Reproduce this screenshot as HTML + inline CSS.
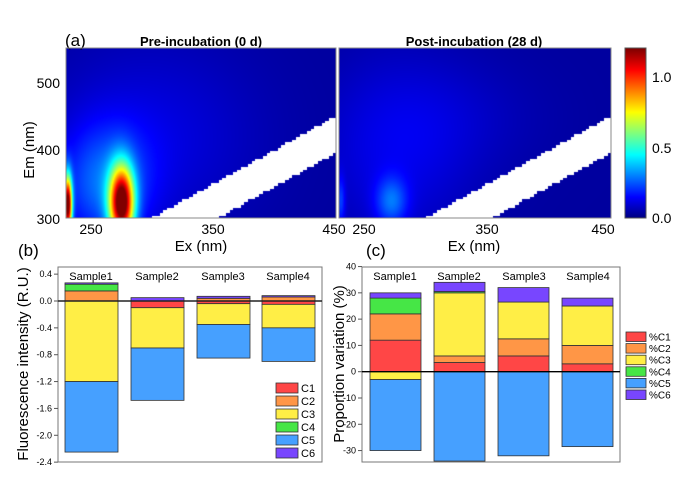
<!DOCTYPE html>
<html><head><meta charset="utf-8">
<style>
body{margin:0;background:#fff;width:700px;height:489px;overflow:hidden;font-family:"Liberation Sans",Arial,sans-serif}
#wrap{position:relative;width:700px;height:489px}
canvas{position:absolute}
svg{position:absolute;left:0;top:0}
</style></head><body>
<div id="wrap">
<canvas id="hm1" width="270" height="170" style="left:66px;top:48px"></canvas>
<canvas id="hm2" width="272" height="170" style="left:339px;top:48px"></canvas>
<canvas id="cb" width="21" height="170" style="left:625px;top:48px"></canvas>
<svg id="svg" width="700" height="489"></svg>
</div>
<script>
// ---- data ----
const samples=["Sample1","Sample2","Sample3","Sample4"];
const compsB=["C1","C2","C3","C4","C5","C6"];
const compsC=["%C1","%C2","%C3","%C4","%C5","%C6"];
const colors=["#ff4646","#ff9646","#ffee46","#46e646","#46a0ff","#7846ff"];
// panel b values (R.U.) per sample, components C1..C6
const bS1=[0,0.15,-1.2,0.10,-1.05,0.02];
const bS2=[-0.1,0,-0.6,0,-0.78,0.05];
const bS3=[-0.04,0.04,-0.31,0,-0.5,0.03];
const bS4=[-0.05,0.06,-0.35,0,-0.5,0.02];
// panel c values (%)
const cS1=[12,10,-3,6,-27,2];
const cS2=[3.5,2.5,24,0.5,-34,3.5];
const cS3=[6,6.5,14,0,-32,5.5];
const cS4=[3,7,15,0,-28.5,3];
const bTicks=[0.4,0,-0.4,-0.8,-1.2,-1.6,-2.0,-2.4];
const cTicks=[40,30,20,10,0,-10,-20,-30];
// EEM peaks: [ex, em, sigmaEx, sigmaEm, amplitude]
const peaksPre=[[275,322,7,38,1.15],[231,320,2.5,30,1.2],[262,350,25,60,0.22],[300,420,60,100,0.08]];
const peaksPost=[[272,325,9,25,0.2],[231,325,2.5,25,0.15],[275,400,45,100,0.09],[330,450,50,60,0.03]];

const NS="http://www.w3.org/2000/svg";
const svg=document.getElementById('svg');
function el(tag,attrs,parent){const e=document.createElementNS(NS,tag);for(const k in attrs)e.setAttribute(k,attrs[k]);(parent||svg).appendChild(e);return e;}
function txt(x,y,s,size,anchor,extra){const t=el('text',Object.assign({x:x,y:y,'font-size':size,'text-anchor':anchor||'middle',fill:'#000'},extra||{}));t.textContent=s;return t;}

// jet colormap
function jet(v){v=Math.max(0,Math.min(1,v));
 const r=Math.max(0,Math.min(1,1.5-Math.abs(4*v-3)));
 const g=Math.max(0,Math.min(1,1.5-Math.abs(4*v-2)));
 const b=Math.max(0,Math.min(1,1.5-Math.abs(4*v-1)));
 return [r*255,g*255,b*255];}
function drawHM(id,peaks){
 const c=document.getElementById(id),ctx=c.getContext('2d');const W=c.width,H=c.height;
 const img=ctx.createImageData(W,H);
 for(let y=0;y<H;y++){const em=550-y*250/H;for(let x=0;x<W;x++){const ex=230+x*220/W;
  let i=(y*W+x)*4;
  const emq=Math.floor(em/4)*4, exq=Math.floor(ex/3)*3;
  if(emq<exq+1 && emq>exq-54 && exq>=297){img.data[i]=255;img.data[i+1]=255;img.data[i+2]=255;img.data[i+3]=255;continue;}
  let v=0;for(const p of peaks){v+=p[4]*Math.exp(-((ex-p[0])**2/(2*p[2]**2)+(em-p[1])**2/(2*p[3]**2)));}
  const col=jet(0.03+v/1.2*0.97);img.data[i]=col[0];img.data[i+1]=col[1];img.data[i+2]=col[2];img.data[i+3]=255;}}
 ctx.putImageData(img,0,0);}
drawHM('hm1',peaksPre);drawHM('hm2',peaksPost);
(function(){const c=document.getElementById('cb'),ctx=c.getContext('2d');for(let y=0;y<170;y++){const col=jet(1-y/170);ctx.fillStyle=`rgb(${col[0]|0},${col[1]|0},${col[2]|0})`;ctx.fillRect(0,y,21,1);}})();

// panel a axes/labels
txt(65,46,"(a)",17,'start');
txt(201,46,"Pre-incubation (0 d)",13,'middle',{'font-weight':'bold'});
txt(474,46,"Post-incubation (28 d)",13,'middle',{'font-weight':'bold'});
el('rect',{x:66,y:48,width:270,height:170,fill:'none',stroke:'#888','stroke-width':1});
el('rect',{x:339,y:48,width:272,height:170,fill:'none',stroke:'#888','stroke-width':1});
el('rect',{x:625,y:48,width:21,height:170,fill:'none',stroke:'#555','stroke-width':1});
[[300,219],[400,150],[500,83]].forEach(a=>txt(60,a[1]+5,String(a[0]),14,'end'));
[[250,91],[350,213],[450,334]].forEach(a=>txt(a[1],234,String(a[0]),14));
[[250,364],[350,487],[450,603]].forEach(a=>txt(a[1],234,String(a[0]),14));
txt(201,251,"Ex (nm)",15);txt(474,251,"Ex (nm)",15);
txt(0,0,"Em (nm)",15,'middle',{transform:'translate(34,150) rotate(-90)'});
[[1.0,77],[0.5,148],[0.0,218]].forEach(a=>{txt(652,a[1]+5,a[0].toFixed(1),14,'start');});

// stacked bar helper
function stacked(data,x0s,bw,yScale,prefix){
 data.forEach((vals,si)=>{
  let pos=0,neg=0;
  vals.forEach((v,ci)=>{ if(v===0)return;
   let a,b; if(v>0){a=pos;b=pos+v;pos=b;} else {a=neg;b=neg+v;neg=b;}
   const y1=yScale(Math.max(a,b)),y2=yScale(Math.min(a,b));
   const r=el('rect',{x:x0s[si],y:y1,width:bw,height:Math.max(0.5,y2-y1),fill:colors[ci],stroke:'#333','stroke-width':0.8});
   
   
  });
 });
}
// ---- panel b ----
const bY=v=>301-v*(188/2.8);
el('rect',{x:58,y:267,width:264,height:195,fill:'#fff',stroke:'#777','stroke-width':1});
stacked([bS1,bS2,bS3,bS4],[65,131,197,262],53,bY,'bar-b');
el('line',{x1:58,x2:322,y1:bY(0),y2:bY(0),stroke:'#222','stroke-width':1.5});
bTicks.forEach(t=>{const y=bY(t);el('line',{x1:54,x2:58,y1:y,y2:y,stroke:'#555'});txt(52,y+3,t.toFixed(1),9,'end');});
samples.forEach((s,i)=>txt([91,157,223,288][i],280,s,11));
txt(18,256,"(b)",17,'start');
txt(0,0,"Fluorescence intensity (R.U.)",15,'middle',{transform:'translate(28,364) rotate(-90)'});
compsB.forEach((c,i)=>{const y=383+i*13;el('rect',{x:276,y:y,width:22,height:10,fill:colors[i],stroke:'#333','stroke-width':0.8});txt(301,y+9,c,11,'start');});
// ---- panel c ----
const cY=v=>371.7-v*(184/70);
el('rect',{x:362,y:267,width:258,height:195,fill:'#fff',stroke:'#777','stroke-width':1});
stacked([cS1,cS2,cS3,cS4],[370,434,498,562],51,cY,'bar-c');
el('line',{x1:362,x2:620,y1:cY(0),y2:cY(0),stroke:'#000','stroke-width':1.3});
cTicks.forEach(t=>{const y=cY(t);el('line',{x1:358,x2:362,y1:y,y2:y,stroke:'#555'});txt(356,y+3,String(t),9,'end');});
samples.forEach((s,i)=>txt([395,459,524,588][i],280,s,11));
txt(366,256,"(c)",17,'start');
txt(0,0,"Proportion variation (%)",15,'middle',{transform:'translate(344,364) rotate(-90)'});
compsC.forEach((c,i)=>{const y=332+i*11.6;el('rect',{x:626,y:y,width:20,height:9.5,fill:colors[i],stroke:'#333','stroke-width':0.8});txt(649,y+8.5,c,10,'start');});
</script>
</body></html>
